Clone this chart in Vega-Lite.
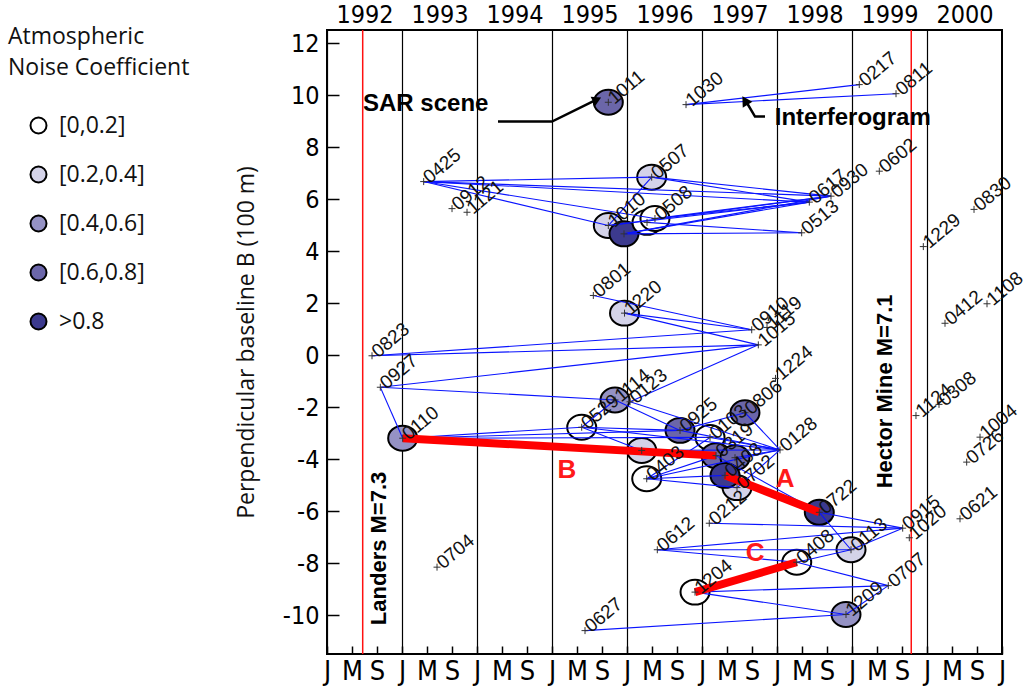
{
  "$schema": "https://vega.github.io/schema/vega-lite/v6.json",
  "width": 675,
  "height": 624,
  "autosize": {"type": "none"},
  "padding": {"left": 327, "top": 30, "right": 26, "bottom": 34},
  "background": "white",
  "config": {"view": {"stroke": "black", "strokeWidth": 2}, "font": "Liberation Sans"},
  "datasets": {
    "scenes": [
      {"id": "s0823", "t": 1992.600, "b": -0.03, "lab": "0823", "cls": null},
      {"id": "s0927", "t": 1992.711, "b": -1.24, "lab": "0927", "cls": null},
      {"id": "s0110", "t": 1993.009, "b": -3.20, "lab": "0110", "cls": "[0.4,0.6]"},
      {"id": "s0425", "t": 1993.289, "b": 6.67, "lab": "0425", "cls": null},
      {"id": "s0704", "t": 1993.467, "b": -8.16, "lab": "0704", "cls": null},
      {"id": "s0912", "t": 1993.667, "b": 5.63, "lab": "0912", "cls": null},
      {"id": "s1121", "t": 1993.867, "b": 5.49, "lab": "1121", "cls": null},
      {"id": "s0529", "t": 1995.396, "b": -2.78, "lab": "0529", "cls": "[0,0.2]"},
      {"id": "s0627", "t": 1995.440, "b": -10.60, "lab": "0627", "cls": null},
      {"id": "s0801", "t": 1995.551, "b": 2.29, "lab": "0801", "cls": null},
      {"id": "s1010", "t": 1995.751, "b": 4.98, "lab": "1010", "cls": "[0.2,0.4]"},
      {"id": "s1011", "t": 1995.751, "b": 9.72, "lab": "1011", "cls": "[0.6,0.8]"},
      {"id": "s1114", "t": 1995.840, "b": -1.73, "lab": "1114", "cls": "[0.4,0.6]"},
      {"id": "sD95", "t": 1995.960, "b": 4.66, "lab": "", "cls": ">0.8"},
      {"id": "s1220", "t": 1995.967, "b": 1.61, "lab": "1220", "cls": "[0.2,0.4]"},
      {"id": "s0123", "t": 1996.040, "b": -1.80, "lab": "0123", "cls": null},
      {"id": "sL96", "t": 1996.196, "b": -3.67, "lab": "", "cls": "[0.2,0.4]"},
      {"id": "s0403", "t": 1996.263, "b": -4.76, "lab": "0403", "cls": "[0,0.2]"},
      {"id": "sW96", "t": 1996.267, "b": 5.10, "lab": "", "cls": "[0,0.2]"},
      {"id": "s0507", "t": 1996.329, "b": 6.84, "lab": "0507", "cls": "[0.2,0.4]"},
      {"id": "s0508", "t": 1996.373, "b": 5.25, "lab": "0508", "cls": "[0,0.2]"},
      {"id": "s0612", "t": 1996.404, "b": -7.49, "lab": "0612", "cls": null},
      {"id": "s0925", "t": 1996.707, "b": -2.90, "lab": "0925", "cls": "[0.6,0.8]"},
      {"id": "s1030", "t": 1996.787, "b": 9.63, "lab": "1030", "cls": null},
      {"id": "s1204", "t": 1996.907, "b": -9.12, "lab": "1204", "cls": "[0,0.2]"},
      {"id": "s0212", "t": 1997.097, "b": -6.47, "lab": "0212", "cls": null},
      {"id": "s0103", "t": 1997.107, "b": -3.17, "lab": "0103", "cls": "[0,0.2]"},
      {"id": "s0702", "t": 1997.467, "b": -5.10, "lab": "0702", "cls": "[0.2,0.4]"},
      {"id": "sB97", "t": 1997.187, "b": -3.87, "lab": "0319", "cls": "[0.6,0.8]"},
      {"id": "sM97", "t": 1997.440, "b": -3.95, "lab": "", "cls": "[0.6,0.8]"},
      {"id": "sA97", "t": 1997.307, "b": -4.63, "lab": "0408", "cls": ">0.8"},
      {"id": "s0806", "t": 1997.573, "b": -2.22, "lab": "0806", "cls": "[0.6,0.8]"},
      {"id": "s0910", "t": 1997.663, "b": 0.97, "lab": "0910", "cls": null},
      {"id": "s1015", "t": 1997.751, "b": 0.39, "lab": "1015", "cls": null},
      {"id": "s1119", "t": 1997.867, "b": 1.06, "lab": "1119", "cls": null},
      {"id": "s1224", "t": 1997.980, "b": -0.90, "lab": "1224", "cls": null},
      {"id": "s0128", "t": 1998.040, "b": -3.65, "lab": "0128", "cls": null},
      {"id": "s0408", "t": 1998.263, "b": -7.97, "lab": "0408", "cls": "[0,0.2]"},
      {"id": "s0513", "t": 1998.329, "b": 4.70, "lab": "0513", "cls": null},
      {"id": "s0617", "t": 1998.431, "b": 5.88, "lab": "0617", "cls": null},
      {"id": "s0722", "t": 1998.564, "b": -6.05, "lab": "0722", "cls": ">0.8"},
      {"id": "s0930", "t": 1998.720, "b": 6.11, "lab": "0930", "cls": null},
      {"id": "s1209", "t": 1998.920, "b": -9.98, "lab": "1209", "cls": "[0.4,0.6]"},
      {"id": "s0113", "t": 1998.987, "b": -7.49, "lab": "0113", "cls": "[0.2,0.4]"},
      {"id": "s0217", "t": 1999.097, "b": 10.40, "lab": "0217", "cls": null},
      {"id": "s0602", "t": 1999.364, "b": 7.07, "lab": "0602", "cls": null},
      {"id": "s0707", "t": 1999.484, "b": -8.87, "lab": "0707", "cls": null},
      {"id": "s0811", "t": 1999.587, "b": 10.05, "lab": "0811", "cls": null},
      {"id": "s0915", "t": 1999.676, "b": -6.66, "lab": "0915", "cls": null},
      {"id": "s1020", "t": 1999.764, "b": -7.03, "lab": "1020", "cls": null},
      {"id": "s1124", "t": 1999.853, "b": -2.33, "lab": "1124", "cls": null},
      {"id": "s1229", "t": 1999.951, "b": 4.17, "lab": "1229", "cls": null},
      {"id": "s0308", "t": 2000.160, "b": -1.90, "lab": "0308", "cls": null},
      {"id": "s0412", "t": 2000.240, "b": 1.22, "lab": "0412", "cls": null},
      {"id": "s0621", "t": 2000.440, "b": -6.30, "lab": "0621", "cls": null},
      {"id": "s0726", "t": 2000.529, "b": -4.12, "lab": "0726", "cls": null},
      {"id": "s0830", "t": 2000.627, "b": 5.60, "lab": "0830", "cls": null},
      {"id": "s1004", "t": 2000.707, "b": -3.16, "lab": "1004", "cls": null},
      {"id": "s1108", "t": 2000.800, "b": 1.97, "lab": "1108", "cls": null}
    ],
    "pairs": [
      {"p": "s0425", "q": "s0507"}, {"p": "s0425", "q": "s0930"}, {"p": "s0425", "q": "s0617"},
      {"p": "s0425", "q": "s1010"}, {"p": "s0425", "q": "s0508"},
      {"p": "s1010", "q": "s0507"}, {"p": "s1010", "q": "s0617"}, {"p": "s1010", "q": "s0930"},
      {"p": "sD95", "q": "s0617"}, {"p": "sD95", "q": "s0930"}, {"p": "sD95", "q": "s0513"},
      {"p": "s0508", "q": "s0617"}, {"p": "s0508", "q": "s0930"}, {"p": "sW96", "q": "s0513"},
      {"p": "s0507", "q": "s0930"}, {"p": "s0507", "q": "s0617"},
      {"p": "s1030", "q": "s0217"}, {"p": "s1030", "q": "s0811"},
      {"p": "s0823", "q": "s0910"}, {"p": "s0823", "q": "s1015"},
      {"p": "s0927", "q": "s1015"}, {"p": "s0927", "q": "s1114"}, {"p": "s0927", "q": "s0110"},
      {"p": "s0801", "q": "s0910"}, {"p": "s1220", "q": "s0910"}, {"p": "s1220", "q": "s1015"}, {"p": "s0123", "q": "s1015"},
      {"p": "s0110", "q": "s0529"}, {"p": "s0110", "q": "s0925"}, {"p": "s0110", "q": "s0103"},
      {"p": "s0529", "q": "s1114"}, {"p": "s0529", "q": "s0925"}, {"p": "s0529", "q": "s0128"}, {"p": "s0529", "q": "sL96"},
      {"p": "s0925", "q": "s0806"}, {"p": "s0925", "q": "s0128"}, {"p": "s1114", "q": "s0925"}, {"p": "s0123", "q": "s0128"},
      {"p": "s0403", "q": "s0128"}, {"p": "s0403", "q": "sA97"}, {"p": "s0403", "q": "s0702"}, {"p": "s0403", "q": "sB97"}, {"p": "s0403", "q": "s0103"},
      {"p": "s0103", "q": "s0128"}, {"p": "s0702", "q": "s0128"}, {"p": "s0806", "q": "s0128"}, {"p": "sL96", "q": "s0128"}, {"p": "sM97", "q": "s0128"},
      {"p": "sB97", "q": "s0722"}, {"p": "s0212", "q": "s0915"},
      {"p": "s0612", "q": "s0915"}, {"p": "s0612", "q": "s0113"}, {"p": "s0612", "q": "s0408"},
      {"p": "s1204", "q": "s0707"}, {"p": "s1204", "q": "s1209"}, {"p": "s0627", "q": "s1209"},
      {"p": "s0722", "q": "s0915"}, {"p": "s0722", "q": "s0113"}, {"p": "s0113", "q": "s0915"},
      {"p": "s0408", "q": "s0113"}, {"p": "s0408", "q": "s0707"}, {"p": "s1209", "q": "s0707"}
    ],
    "red": [
      {"p": "s0110", "q": "sB97", "name": "B"},
      {"p": "sA97", "q": "s0722", "name": "A"},
      {"p": "s1204", "q": "s0408", "name": "C"}
    ],
    "redtext": [
      {"t": 1998.11, "b": -4.75, "txt": "A"},
      {"t": 1995.20, "b": -4.44, "txt": "B"},
      {"t": 1997.71, "b": -7.60, "txt": "C"}
    ],
    "quakes": [
      {"t": 1992.476, "name": "Landers"},
      {"t": 1999.790, "name": "Hector Mine"}
    ],
    "quaketext": [
      {"t": 1992.69, "b": -7.44, "txt": "Landers  M=7.3"},
      {"t": 1999.44, "b": -1.40, "txt": "Hector  Mine  M=7.1"}
    ],
    "notes": [
      {"t": 1992.48, "b": 9.67, "txt": "SAR scene"},
      {"t": 1997.97, "b": 9.13, "txt": "Interferogram"}
    ],
    "arrows": [
      {"g": "sar", "o": 1, "t": 1994.28, "b": 8.98},
      {"g": "sar", "o": 2, "t": 1995.00, "b": 8.98},
      {"g": "sar", "o": 3, "t": 1995.58, "b": 9.80},
      {"g": "ifg", "o": 1, "t": 1997.59, "b": 9.74},
      {"g": "ifg", "o": 2, "t": 1997.707, "b": 9.17},
      {"g": "ifg", "o": 3, "t": 1997.84, "b": 9.17}
    ],
    "heads": [
      {"g": "sar", "t": 1995.60, "b": 9.83},
      {"g": "ifg", "t": 1997.573, "b": 9.79}
    ]
  },
  "resolve": {"axis": {"x": "independent", "y": "independent"}, "scale": {"x": "shared", "y": "shared"}},
  "layer": [
    {
      "data": {"name": "scenes"},
      "transform": [{"filter": "isValid(datum.cls)"}],
      "mark": {"type": "point", "shape": "M-1,0A1,0.86,0,1,1,1,0A1,0.86,0,1,1,-1,0Z", "size": 841, "filled": true, "fillOpacity": 1, "opacity": 1, "stroke": "black", "strokeWidth": 2},
      "encoding": {
        "x": {"field": "t", "type": "quantitative", "scale": {"domain": [1992, 2001], "nice": false, "zero": false}, "axis": null},
        "y": {"field": "b", "type": "quantitative", "scale": {"domain": [-11.5, 12.5], "nice": false, "zero": false}, "axis": null},
        "fill": {
          "field": "cls", "type": "nominal",
          "scale": {"domain": ["[0,0.2]", "[0.2,0.4]", "[0.4,0.6]", "[0.6,0.8]", ">0.8"], "range": ["#ffffff", "#d4d3e9", "#9592c4", "#6b66a9", "#3c3a8e"]},
          "legend": {
            "orient": "none", "legendX": -319, "legendY": -4,
            "title": ["Atmospheric", "Noise  Coefficient"],
            "titleFont": "Open Sans", "titleFontSize": 23, "titleFontWeight": "normal", "titleColor": "#111111",
            "titleLineHeight": 31, "titlePadding": 34, "titleLimit": 400,
            "labelFont": "Open Sans", "labelFontSize": 23, "labelFontWeight": "normal", "labelColor": "#111111", "labelOffset": 9, "labelLimit": 300,
            "symbolType": "circle", "symbolSize": 256,
            "symbolStrokeColor": "black", "symbolStrokeWidth": 2, "symbolOpacity": 1, "symbolOffset": 19,
            "rowPadding": 24, "padding": 0, "offset": 0
          }
        }
      }
    },
    {
      "data": {"name": "pairs"},
      "transform": [
        {"lookup": "p", "from": {"data": {"name": "scenes"}, "key": "id", "fields": ["t", "b"]}},
        {"lookup": "q", "from": {"data": {"name": "scenes"}, "key": "id", "fields": ["t", "b"]}, "as": ["t2", "b2"]}
      ],
      "mark": {"type": "rule", "color": "#0a14ff", "strokeWidth": 1.1},
      "encoding": {
        "x": {
          "field": "t", "type": "quantitative", "scale": {"domain": [1992, 2001], "nice": false, "zero": false},
          "axis": {
            "orient": "bottom", "title": null,
            "values": [1992, 1992.3333, 1992.6667, 1993, 1993.3333, 1993.6667, 1994, 1994.3333, 1994.6667, 1995, 1995.3333, 1995.6667, 1996, 1996.3333, 1996.6667, 1997, 1997.3333, 1997.6667, 1998, 1998.3333, 1998.6667, 1999, 1999.3333, 1999.6667, 2000, 2000.3333, 2000.6667, 2001],
            "labelExpr": "(datum.value - floor(datum.value + 0.001)) < 0.1 ? 'J' : ((datum.value - floor(datum.value + 0.001)) < 0.5 ? 'M' : 'S')",
            "domain": false, "grid": false, "ticks": true, "tickSize": -8, "tickColor": "black", "tickWidth": 1.5,
            "labelPadding": 12, "labelFont": "Liberation Sans Narrow, DejaVu Sans Condensed, sans-serif", "labelFontSize": 27, "labelColor": "black",
            "labelFlush": false, "labelOverlap": false
          }
        },
        "y": {
          "field": "b", "type": "quantitative", "scale": {"domain": [-11.5, 12.5], "nice": false, "zero": false},
          "axis": {
            "orient": "left", "title": "Perpendicular baseline  B  (100 m)",
            "values": [-10, -8, -6, -4, -2, 0, 2, 4, 6, 8, 10, 12],
            "labelExpr": "datum.value < 0 ? '-' + abs(datum.value) : '' + datum.value",
            "titleFont": "Open Sans", "titleFontSize": 23, "titleFontWeight": "normal", "titleColor": "#111111", "titlePadding": 24,
            "domain": false, "grid": false, "tickSize": -12, "tickColor": "black", "tickWidth": 1.5,
            "labelPadding": 20, "labelFont": "Liberation Sans Narrow, DejaVu Sans Condensed, sans-serif", "labelFontSize": 25, "labelColor": "black",
            "labelFlush": false, "labelOverlap": false
          }
        },
        "x2": {"field": "t2"},
        "y2": {"field": "b2"}
      }
    },
    {
      "data": {"name": "quakes"},
      "mark": {"type": "rule", "color": "#ff1010", "strokeWidth": 1.5},
      "encoding": {
        "x": {
          "field": "t", "type": "quantitative", "scale": {"domain": [1992, 2001], "nice": false, "zero": false},
          "axis": {
            "orient": "top", "title": null, "values": [1992, 1993, 1994, 1995, 1996, 1997, 1998, 1999, 2000], "format": "d",
            "domain": false, "ticks": false, "grid": true, "gridColor": "black", "gridWidth": 1.2, "gridOpacity": 1,
            "labelOffset": 37.5, "labelPadding": 3, "labelFont": "Liberation Sans Narrow, DejaVu Sans Condensed, sans-serif", "labelFontSize": 25, "labelColor": "black",
            "labelFlush": false, "labelOverlap": false
          }
        }
      }
    },
    {
      "data": {"name": "red"},
      "transform": [
        {"lookup": "p", "from": {"data": {"name": "scenes"}, "key": "id", "fields": ["t", "b"]}},
        {"lookup": "q", "from": {"data": {"name": "scenes"}, "key": "id", "fields": ["t", "b"]}, "as": ["t2", "b2"]}
      ],
      "mark": {"type": "rule", "color": "#ff0000", "strokeWidth": 8},
      "encoding": {
        "x": {"field": "t", "type": "quantitative", "axis": null},
        "y": {"field": "b", "type": "quantitative", "axis": null},
        "x2": {"field": "t2"},
        "y2": {"field": "b2"}
      }
    },
    {
      "data": {"name": "arrows"},
      "mark": {"type": "line", "color": "black", "strokeWidth": 2.5},
      "encoding": {
        "x": {"field": "t", "type": "quantitative", "axis": null},
        "y": {"field": "b", "type": "quantitative", "axis": null},
        "detail": {"field": "g"},
        "order": {"field": "o"}
      }
    },
    {
      "data": {"name": "heads"},
      "transform": [{"filter": "datum.g == 'sar'"}],
      "mark": {"type": "point", "shape": "triangle-right", "size": 110, "filled": true, "color": "black", "opacity": 1, "angle": 334},
      "encoding": {
        "x": {"field": "t", "type": "quantitative", "axis": null},
        "y": {"field": "b", "type": "quantitative", "axis": null}
      }
    },
    {
      "data": {"name": "heads"},
      "transform": [{"filter": "datum.g == 'ifg'"}],
      "mark": {"type": "point", "shape": "triangle-right", "size": 130, "filled": true, "color": "black", "opacity": 1, "angle": 238},
      "encoding": {
        "x": {"field": "t", "type": "quantitative", "axis": null},
        "y": {"field": "b", "type": "quantitative", "axis": null}
      }
    },
    {
      "data": {"name": "scenes"},
      "mark": {"type": "point", "shape": "M-1,0L1,0M0,-1L0,1", "size": 49, "filled": false, "stroke": "#333333", "strokeWidth": 1, "opacity": 1},
      "encoding": {
        "x": {"field": "t", "type": "quantitative", "axis": null},
        "y": {"field": "b", "type": "quantitative", "axis": null}
      }
    },
    {
      "data": {"name": "scenes"},
      "transform": [{"filter": "datum.lab != ''"}],
      "mark": {"type": "text", "angle": 320, "align": "left", "baseline": "middle", "dx": 3, "font": "Liberation Sans", "fontSize": 19, "color": "#111111"},
      "encoding": {
        "x": {"field": "t", "type": "quantitative", "axis": null},
        "y": {"field": "b", "type": "quantitative", "axis": null},
        "text": {"field": "lab"}
      }
    },
    {
      "data": {"name": "redtext"},
      "mark": {"type": "text", "align": "center", "baseline": "middle", "font": "Liberation Sans", "fontSize": 26, "fontWeight": "bold", "color": "#ff1a1a"},
      "encoding": {
        "x": {"field": "t", "type": "quantitative", "axis": null},
        "y": {"field": "b", "type": "quantitative", "axis": null},
        "text": {"field": "txt"}
      }
    },
    {
      "data": {"name": "notes"},
      "mark": {"type": "text", "align": "left", "baseline": "middle", "font": "Liberation Sans", "fontSize": 24, "fontWeight": "bold", "color": "black"},
      "encoding": {
        "x": {"field": "t", "type": "quantitative", "axis": null},
        "y": {"field": "b", "type": "quantitative", "axis": null},
        "text": {"field": "txt"}
      }
    },
    {
      "data": {"name": "quaketext"},
      "mark": {"type": "text", "angle": 270, "align": "center", "baseline": "middle", "font": "Liberation Sans", "fontSize": 22, "fontWeight": "bold", "color": "black"},
      "encoding": {
        "x": {"field": "t", "type": "quantitative", "axis": null},
        "y": {"field": "b", "type": "quantitative", "axis": null},
        "text": {"field": "txt"}
      }
    }
  ]
}
